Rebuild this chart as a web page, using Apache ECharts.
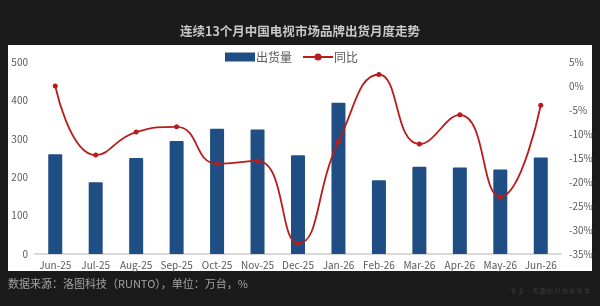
<!DOCTYPE html>
<html>
<head>
<meta charset="utf-8">
<script src="https://cdn.jsdelivr.net/npm/echarts@6/dist/echarts.min.js"></script>
<style>
  html, body { margin: 0; padding: 0; background: #1b1b1b; }
  #chart { width: 600px; height: 306px; }
</style>
</head>
<body>
<div id="chart"></div>
<script>
const months = ['Jun-25', 'Jul-25', 'Aug-25', 'Sep-25', 'Oct-25', 'Nov-25', 'Dec-25',
  'Jan-26', 'Feb-26', 'Mar-26', 'Apr-26', 'May-26', 'Jun-26'];
const shipments = [260, 187, 250, 294, 326, 324, 257, 394, 192, 227, 225, 220, 251];
const yoy = [0, -14.4, -9.6, -8.5, -16.2, -15.6, -32.8, -11.6, 2.4, -12.1, -6.0, -23.1, -4.0];

const chart = echarts.init(document.getElementById('chart'));
const font = '"Noto Sans CJK SC", "Noto Sans", sans-serif';

chart.setOption({
  backgroundColor: '#1b1b1b',
  animation: false,
  textStyle: { fontFamily: font },
  title: {
    text: '连续13个月中国电视市场品牌出货月度走势',
    left: 'center',
    top: 20,
    textStyle: { color: '#c8c8c8', fontSize: 12.5, fontWeight: 'bold', fontFamily: font }
  },
  graphic: [
    {
      type: 'rect', z: -10,
      shape: { x: 8, y: 45, width: 584, height: 226 },
      style: { fill: '#ffffff' }
    },
    {
      type: 'text', left: 8, top: 278,
      style: { text: '数据来源：洛图科技（RUNTO），单位：万台，%', fill: '#a3a3a3', fontSize: 11, fontFamily: font }
    },
    {
      type: 'text', right: 10, top: 288,
      style: { text: '专 业 · 有 趣 的 科 技 新 媒 体', fill: '#3a3a3a', fontSize: 6, fontFamily: font }
    }
  ],
  legend: {
    top: 46,
    left: 220,
    itemWidth: 30,
    itemHeight: 9,
    itemGap: 10,
    textStyle: { color: '#595959', fontSize: 12, padding: [0, 0, 0, -4] },
    data: [
      { name: '出货量', icon: 'rect' },
      { name: '同比' }
    ]
  },
  grid: { left: 35, right: 39, top: 62, bottom: 52 },
  xAxis: {
    type: 'category',
    data: months,
    axisLine: { lineStyle: { color: '#d9d9d9', width: 2 } },
    axisTick: { show: false },
    axisLabel: { color: '#595959', fontSize: 10, margin: 6, interval: 0 }
  },
  yAxis: [
    {
      type: 'value',
      min: 0, max: 500, interval: 100,
      splitLine: { show: false },
      axisLine: { show: false },
      axisLabel: { color: '#595959', fontSize: 10, margin: 7 }
    },
    {
      type: 'value',
      min: -35, max: 5, interval: 5,
      splitLine: { show: false },
      axisLine: { show: false },
      axisLabel: { color: '#595959', fontSize: 10, margin: 8, formatter: '{value}%' }
    }
  ],
  series: [
    {
      name: '出货量',
      type: 'bar',
      data: shipments,
      barWidth: 14,
      itemStyle: { color: '#1f4e84', borderRadius: [1, 1, 0, 0] }
    },
    {
      name: '同比',
      type: 'line',
      yAxisIndex: 1,
      data: yoy,
      smooth: 0.5,
      symbol: 'circle',
      symbolSize: 5,
      itemStyle: { color: '#b81d1d' },
      lineStyle: { color: '#b81d1d', width: 1.8 }
    }
  ]
});
</script>
</body>
</html>
